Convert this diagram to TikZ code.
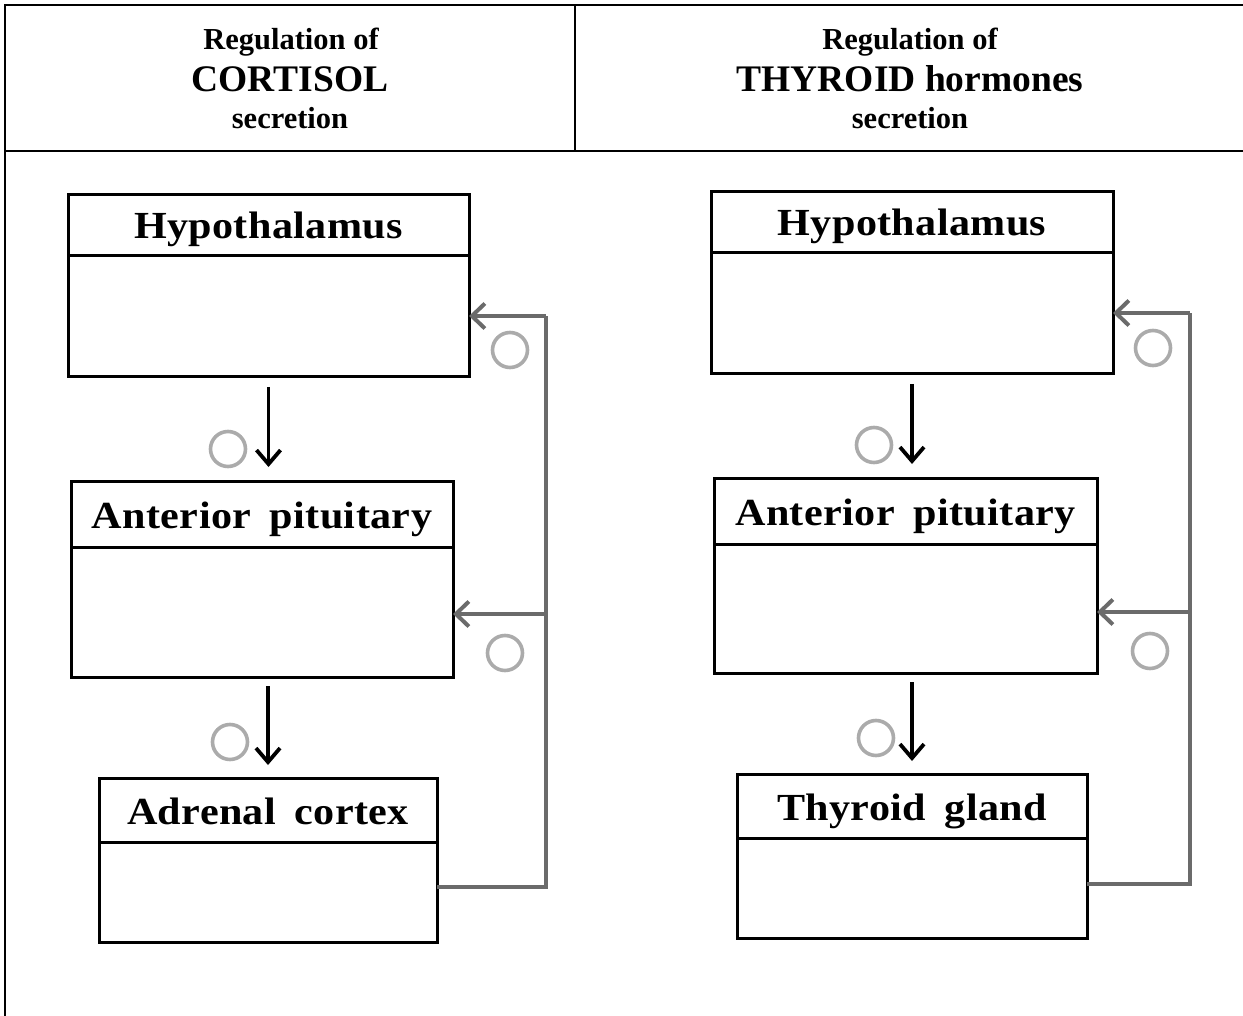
\documentclass[tikz,border=0pt]{standalone}
\usepackage{fontspec}
\setmainfont{Liberation Serif}
\newfontfamily\boxfont[LetterSpace=1,FakeStretch=1.1]{Liberation Serif}
\usetikzlibrary{arrows.meta}
\definecolor{fbgray}{HTML}{6B6B6B}
\definecolor{cgray}{HTML}{ABABAB}
\tikzset{
  organ/.style={draw=black, line width=3pt, anchor=north west, inner sep=0pt, outer sep=0pt},
  divline/.style={line width=3pt},
  organtitle/.style={font=\boxfont\bfseries\fontsize{38.3}{38}\selectfont, inner sep=0pt, anchor=base},
  hsmall/.style={font=\bfseries\fontsize{30.5}{30}\selectfont, inner sep=0pt, anchor=base},
  hbig/.style={font=\bfseries\fontsize{37.5}{37}\selectfont, inner sep=0pt, anchor=base},
  frame/.style={line width=2.8pt, black},
  mainarrow/.style={line width=3.8pt, black, -{Straight Barb[length=14pt,width=24pt]}},
  fb/.style={line width=4pt, fbgray, line join=miter},
  fbarrow/.style={fb, -{Straight Barb[length=13pt,width=25pt]}},
  ring/.style={circle, draw=cgray, line width=3.6pt, minimum size=35pt, inner sep=0pt},
}
\begin{document}
\begin{tikzpicture}[x=1pt, y=-1pt]
\useasboundingbox (0,0) rectangle (1243,1016);
% table frame
\draw[frame] (5,1016) -- (5,5) -- (1243,5);
\draw[frame] (5,151) -- (1243,151);
\draw[frame] (575,5) -- (575,151);
% headers
\node[hsmall] (hl1) at (291,50) {Regulation of};
\node[hbig]   (hl2) at (290,92) {CORTISOL};
\node[hsmall] (hl3) at (290,129) {secretion};
\node[hsmall] (hr1) at (910,50) {Regulation of};
\node[hbig]   (hr2) at (910,92) {THYROID hormones};
\node[hsmall] (hr3) at (910,129) {secretion};

% ---------- left column ----------
\node[organ, minimum width=401pt, minimum height=182pt] (hypL) at (68,195) {};
\draw[divline] ([yshift=-61pt]hypL.north west) -- ([yshift=-61pt]hypL.north east);
\node[organtitle] (hypLt) at (268.5,239) {Hypothalamus};

\node[organ, minimum width=382pt, minimum height=196pt] (antL) at (71,481) {};
\draw[divline] ([yshift=-66pt]antL.north west) -- ([yshift=-66pt]antL.north east);
\node[organtitle] (antLt) at (262,528) {Anterior\hspace{0.2em} pituitary};

\node[organ, minimum width=338pt, minimum height=164pt] (adrL) at (99,778) {};
\draw[divline] ([yshift=-64pt]adrL.north west) -- ([yshift=-64pt]adrL.north east);
\node[organtitle] (adrLt) at (268,824) {Adrenal\hspace{0.2em} cortex};

\draw[mainarrow, shorten <=10pt, shorten >=14pt] (hypL.south) -- (hypL.south |- antL.north);
\draw[mainarrow, shorten <=9pt, shorten >=13pt] (adrL.north |- antL.south) -- (adrL.north);

\coordinate (cL) at (546,887);
\coordinate (topL) at (546,316);
\coordinate (midL) at (546,614);
\draw[fb] (adrL.east |- cL) -- (cL) -- (topL);
\draw[fbarrow] (topL) -- (topL -| hypL.east);
\draw[fbarrow] (midL) -- (midL -| antL.east);

\node[ring] (r1) at (228,449) {};
\node[ring] (r2) at (230,742) {};
\node[ring] (r3) at (510,350) {};
\node[ring] (r4) at (505,653) {};

% ---------- right column ----------
\node[organ, minimum width=402pt, minimum height=182pt] (hypR) at (711,192) {};
\draw[divline] ([yshift=-61pt]hypR.north west) -- ([yshift=-61pt]hypR.north east);
\node[organtitle] (hypRt) at (912,236) {Hypothalamus};

\node[organ, minimum width=383pt, minimum height=195pt] (antR) at (714,478) {};
\draw[divline] ([yshift=-66pt]antR.north west) -- ([yshift=-66pt]antR.north east);
\node[organtitle] (antRt) at (905.5,525) {Anterior\hspace{0.2em} pituitary};

\node[organ, minimum width=350pt, minimum height=164pt] (thyR) at (737,774) {};
\draw[divline] ([yshift=-64pt]thyR.north west) -- ([yshift=-64pt]thyR.north east);
\node[organtitle] (thyRt) at (912,820) {Thyroid\hspace{0.2em} gland};

\draw[mainarrow, shorten <=10pt, shorten >=14pt] (hypR.south) -- (hypR.south |- antR.north);
\draw[mainarrow, shorten <=9pt, shorten >=13pt] (thyR.north |- antR.south) -- (thyR.north);

\coordinate (cR) at (1190,884);
\coordinate (topR) at (1190,313);
\coordinate (midR) at (1190,612);
\draw[fb] (thyR.east |- cR) -- (cR) -- (topR);
\draw[fbarrow] (topR) -- (topR -| hypR.east);
\draw[fbarrow] (midR) -- (midR -| antR.east);

\node[ring] (r5) at (874,445) {};
\node[ring] (r6) at (876,738) {};
\node[ring] (r7) at (1153,348) {};
\node[ring] (r8) at (1150,651) {};
\end{tikzpicture}
\end{document}
